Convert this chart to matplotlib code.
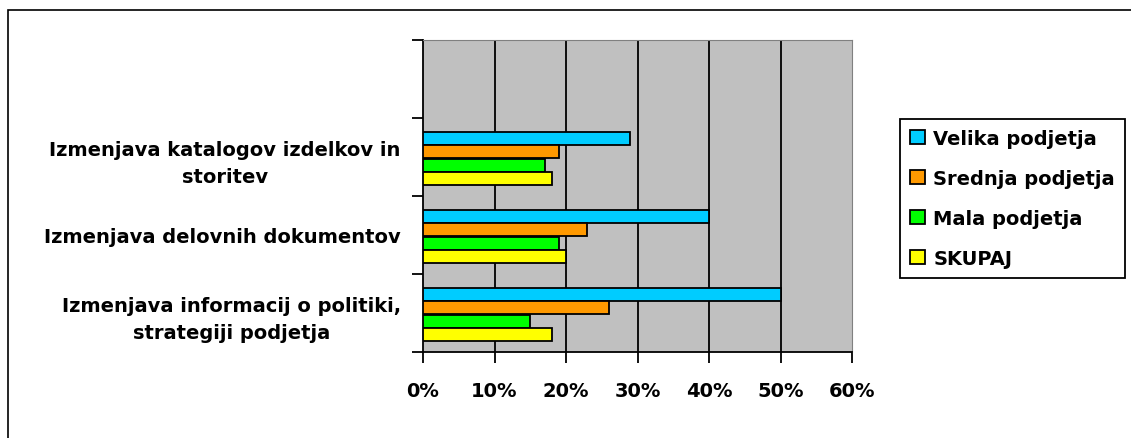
import matplotlib
matplotlib.use("Agg")
import matplotlib.pyplot as plt
import numpy as np
from matplotlib.patches import Rectangle

plt.rcParams['font.family'] = ['DejaVu Sans']
plt.rcParams['font.weight'] = 'bold'

categories = [
    "Izmenjava informacij o politiki,\nstrategiji podjetja",
    "Izmenjava delovnih dokumentov",
    "Izmenjava katalogov izdelkov in\nstoritev",
]
series = ["Velika podjetja", "Srednja podjetja", "Mala podjetja", "SKUPAJ"]
colors = ["#00CCFF", "#FF9900", "#00FF00", "#FFFF00"]

velika = [50, 40, 29]
srednja = [26, 23, 19]
mala = [15, 19, 17]
skupaj = [18, 20, 18]
values = [velika, srednja, mala, skupaj]

xticks = [0, 10, 20, 30, 40, 50, 60]

fig = plt.figure(figsize=(11.31, 4.39), dpi=100)
ax = fig.add_axes([423 / 1131, 1 - 353 / 439, 429 / 1131, 312 / 439])
ax.set_facecolor("#C0C0C0")

h = 0.171
offsets = [1.5, 0.5, -0.5, -1.5]
ypos = np.arange(len(categories)) + 0.5
for vals, off, col, name in zip(values, offsets, colors, series):
    ax.barh(ypos - 0.02 + off * h, vals, height=h * 0.96, color=col,
            edgecolor="black", linewidth=1.3, label=name, zorder=3)

ax.set_xlim(0, 60)
ax.set_ylim(0, 4)
ax.set_xticks(xticks)
ax.set_xticklabels([f"{t}%" for t in xticks])
for t in xticks[1:-1]:
    ax.axvline(t, color="black", linewidth=1.3, zorder=1)

# category boundaries get tick marks, labels sit between them
ax.set_yticks([0, 1, 2, 3, 4])
ax.set_yticklabels([])
ax.set_yticks(ypos, minor=True)
ax.set_yticklabels(categories, minor=True, multialignment="center",
                   fontsize=14, fontweight="bold", linespacing=1.55)
ax.tick_params(axis="y", which="minor", length=0, pad=16)
ax.tick_params(axis="y", which="major", length=8, width=1.3, direction="out")
ax.tick_params(axis="x", length=8, width=1.3, direction="out", pad=13,
               labelsize=14)

ax.spines["left"].set_linewidth(1.3)
ax.spines["bottom"].set_linewidth(1.3)
ax.spines["top"].set_color("#808080")
ax.spines["right"].set_color("#808080")

leg = fig.legend(loc="upper left", bbox_to_anchor=(900 / 1131, 1 - 120 / 439),
                 frameon=True, fancybox=False, edgecolor="black",
                 framealpha=1, handlelength=0.75, handleheight=0.75,
                 handletextpad=0.45, labelspacing=1.07, borderpad=0.52,
                 borderaxespad=0, prop={"weight": "bold", "size": 14})
leg.get_frame().set_linewidth(1.3)

fig.add_artist(Rectangle((8 / 1131, -0.5), 2, 0.5 + 1 - 11 / 439,
                         transform=fig.transFigure, fill=False,
                         edgecolor="black", linewidth=1.2, clip_on=False))

fig.savefig("out.png", dpi=100)
